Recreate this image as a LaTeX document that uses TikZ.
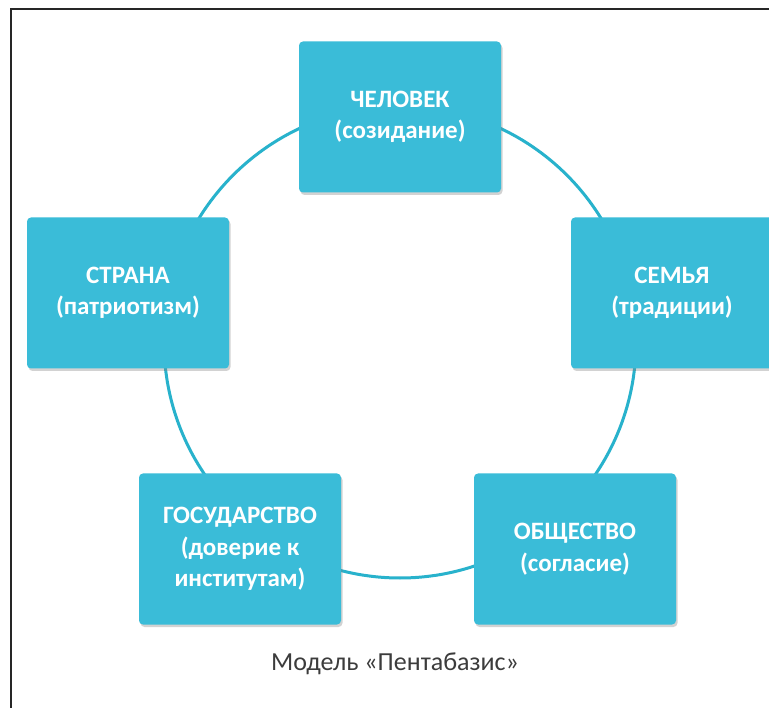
\documentclass[tikz,border=0pt]{standalone}
\usepackage{fontspec}
\setmainfont{Carlito}
\usetikzlibrary{shadows}
\definecolor{boxfill}{RGB}{58,188,216}
\definecolor{ringcol}{RGB}{40,178,204}
\definecolor{captcol}{RGB}{60,60,60}
\tikzset{
  pentabox/.style={draw=none, fill=boxfill, rounded corners=4pt,
    minimum width=202pt, minimum height=151pt, inner sep=0pt,
    align=center, text=white, font=\bfseries\fontsize{25}{31.5}\selectfont,
    drop shadow={shadow xshift=1.5pt, shadow yshift=-2.5pt, opacity=0.35, fill=gray}},
  ring/.style={draw=ringcol, line width=3pt},
  frameline/.style={draw=black!85, line width=1.4pt}
}
\begin{document}
\begin{tikzpicture}[x=1pt,y=-1pt]
\useasboundingbox (0,0) rectangle (769,708);
\clip (0,0) rectangle (769,708);
\fill[white] (0,0) rectangle (769,708);
\coordinate (fbl) at (11,712);
\coordinate (ftl) at (11,9);
\coordinate (ftr) at (775,9);
\draw[frameline] (fbl) -- (ftl) -- (ftr);
\coordinate (ctr) at (400,342);
\draw[ring] (ctr) circle (236);
\node[pentabox] (chel) at (400,117) {ЧЕЛОВЕК\\(созидание)};
\node[pentabox] (stra) at (128,293) {СТРАНА\\(патриотизм)};
\node[pentabox] (semya) at (672,293) {СЕМЬЯ\\(традиции)};
\node[pentabox] (gos) at (240,549) {ГОСУДАРСТВО\\(доверие к\\институтам)};
\node[pentabox] (obsh) at (575,549) {ОБЩЕСТВО\\(согласие)};
\node[text=captcol, font=\fontsize{26}{30}\selectfont, anchor=base] (capt) at (395,670) {Модель «Пентабазис»};
\end{tikzpicture}
\end{document}
